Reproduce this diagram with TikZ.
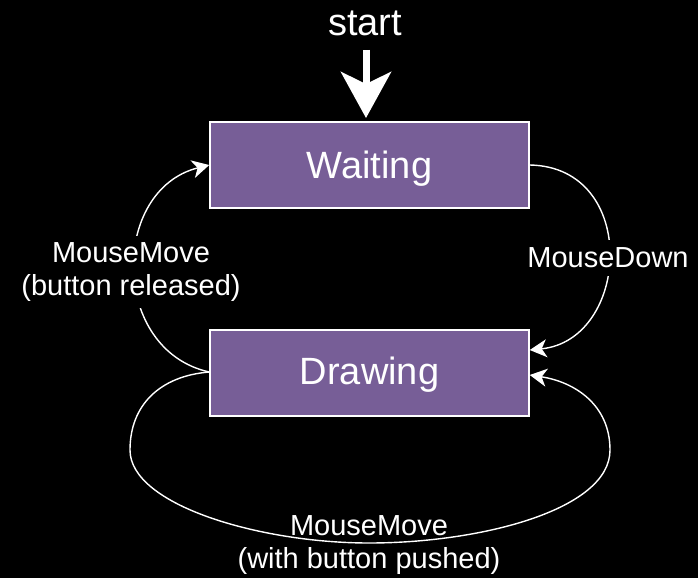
\documentclass[tikz,border=0pt]{standalone}
\usepackage{fontspec}
\setmainfont{Liberation Sans}
\usetikzlibrary{arrows.meta,calc}
\definecolor{boxpurple}{RGB}{119,94,151}
\tikzset{
  state/.style={draw=white, line width=1.5pt, fill=boxpurple, text=white,
    minimum width=319pt, minimum height=86pt, inner sep=0pt,
    font=\fontsize{38}{44}\selectfont, text height=26pt, text depth=0pt},
  conn/.style={draw=white, line width=1.4pt,
    -{Stealth[length=17pt,width=18pt,inset=5pt]}},
  lbl/.style={text=white, align=center, font=\fontsize{29}{33}\selectfont},
  lblfill/.style={lbl, fill=black, inner sep=7pt}
}
\begin{document}
\begin{tikzpicture}[x=1pt,y=-1pt]
\fill[black] (0,0) rectangle (698,578);
\useasboundingbox (0,0) rectangle (698,578);

\node[state] (W) at (369.5,165) {Waiting};
\node[state, text height=23pt] (D) at (369.5,373) {Drawing};

\node[text=white, inner sep=0pt, font=\fontsize{38}{44}\selectfont,
      text height=27.2pt, text depth=0pt] (st) at (365,21.5) {start};
\coordinate (a0) at (366,50);
\coordinate (a1) at (366,118);
\draw[white, line width=7pt, -{Stealth[length=46pt,width=50pt,inset=12pt]}] (a0) -- (a1);

% left arc: Drawing -> Waiting
\draw[conn] ($(D.west)+(0,-1)$) .. controls (110,350) and (110,190) .. (W.west);
% right arc: Waiting -> Drawing
\draw[conn] (W.east) .. controls (640,167) and (630,340) .. ($(D.east)+(0,-23)$);
% bottom loop: Drawing -> Drawing
\draw[conn] ($(D.west)+(0,-1)$) .. controls (160,376) and (130,405) .. (130,450)
   .. controls (130,505) and (260,543) .. (369,543)
   .. controls (480,543) and (610,510) .. (610,450)
   .. controls (610,405) and (575,382) .. ($(D.east)+(0,2)$);

\node[lblfill] (l1) at (131,272) {MouseMove\\(button released)};
\node[lblfill, inner sep=8pt] (l2) at (608,258) {MouseDown};
\node[lbl] (l3) at (369,545) {MouseMove\\(with button pushed)};
\end{tikzpicture}
\end{document}
